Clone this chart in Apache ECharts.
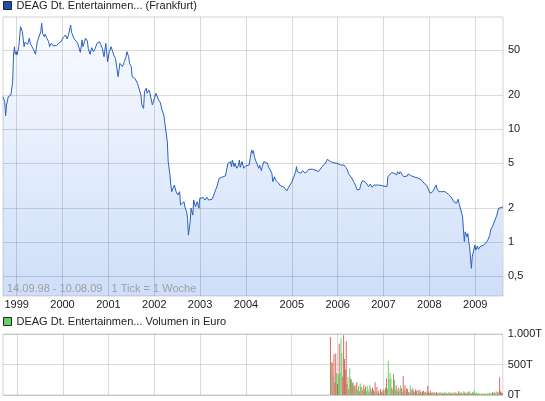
<!DOCTYPE html>
<html>
<head>
<meta charset="utf-8">
<script src="https://cdn.jsdelivr.net/npm/echarts@6/dist/echarts.min.js"></script>
<style>
html,body{margin:0;padding:0;background:#fff;}
#chart{width:545px;height:401px;}
</style>
</head>
<body>
<div id="chart"></div>
<script>
// ---- DATA ----
const seriesName = 'DEAG Dt. Entertainmen... (Frankfurt)';
const volumeName = 'DEAG Dt. Entertainmen... Volumen in Euro';
const rangeNote = '14.09.98 - 10.08.09   1 Tick = 1 Woche';
const startDate = '1998-09-14';
const endDate = '2009-08-10';

// week index since 14.09.98 and weekly closing price (EUR)
const priceWeeks = [0,2,3,4,6,7,9,11,12,13,14,15,16,18,19,20,21,22,24,25,27,28,30,31,33,35,37,39,41,43,44,45,47,48,50,52,53,55,57,59,61,63,64,66,68,69,71,73,75,77,78,81,83,85,87,88,90,91,93,94,96,97,99,101,103,105,107,110,111,113,115,117,118,119,121,123,125,126,128,130,131,133,135,136,138,140,141,143,144,146,147,149,150,152,153,155,157,158,159,160,161,163,164,166,167,169,170,172,174,176,177,179,181,183,184,186,187,188,190,191,192,194,195,197,198,199,201,202,204,206,207,209,210,211,213,214,216,217,219,221,223,224,226,228,230,232,234,236,238,240,242,244,246,247,249,251,253,255,256,258,259,260,261,263,264,266,268,269,270,272,273,274,276,278,280,281,283,284,285,286,288,289,291,292,294,295,297,299,301,302,304,306,307,309,310,312,313,316,318,319,321,323,325,327,329,331,333,334,335,337,339,341,342,344,346,348,350,352,354,355,357,359,361,363,365,367,369,371,373,374,376,378,380,382,384,386,388,390,392,393,395,397,399,401,403,405,406,407,409,410,412,414,416,418,420,422,424,426,427,429,431,433,435,437,438,440,442,443,445,446,448,449,451,452,454,456,458,460,461,463,465,467,469,471,473,475,477,479,481,482,484,486,488,489,491,493,494,496,497,499,501,503,505,507,509,511,513,515,516,518,519,521,523,524,525,526,528,529,530,531,533,534,536,537,538,540,541,543,545,547,549,551,552,554,555,557,558,560,562,564,566,568,569];
const prices = [19.3,17.4,13.1,16.3,19.3,18.7,20.0,26.2,45.2,53.5,45.8,48.3,45.2,53.5,51.8,80.4,77.8,72.6,53.5,58.5,60.1,56.2,63.5,57.3,53.5,50.0,45.8,59.2,57.3,72.6,86.2,70.3,65.6,68.9,63.5,59.2,53.5,57.3,54.6,56.2,54.6,57.3,55.4,59.2,63.5,64.3,67.9,62.6,70.3,83.2,71.7,62.6,60.1,57.3,55.4,47.7,61.3,53.5,55.4,63.5,60.1,51.8,45.8,52.4,48.3,51.8,57.3,59.2,56.2,51.8,43.6,57.3,48.3,39.4,48.3,53.5,51.8,45.2,42.2,40.8,29.0,38.1,39.4,35.6,39.4,43.6,48.3,43.6,38.1,35.6,29.0,30.1,28.1,27.1,25.4,24.5,20.0,16.3,15.8,15.2,21.4,22.9,20.7,22.1,21.1,21.7,16.3,16.5,20.7,20.0,18.1,17.2,14.7,13.3,11.6,11.8,7.72,5.14,3.92,3.19,2.79,2.70,3.19,2.79,2.89,2.61,2.79,2.13,2.05,2.27,2.05,1.85,1.62,1.15,1.51,1.99,1.73,2.35,2.05,2.27,1.99,2.44,2.39,2.47,2.35,2.49,2.35,2.44,2.39,2.44,2.89,3.19,3.66,3.78,3.74,3.78,3.84,3.92,4.97,4.80,5.14,4.64,5.32,4.64,4.97,4.49,4.80,5.32,4.58,5.14,5.32,4.49,4.71,4.58,4.80,4.80,6.52,6.10,6.43,5.69,5.14,4.97,4.49,4.80,4.28,4.64,5.14,5.24,4.97,4.64,4.58,4.06,3.42,3.78,3.54,3.66,3.35,3.13,3.05,3.09,2.99,2.84,3.05,3.09,3.42,3.78,4.19,4.64,4.19,4.34,4.06,4.28,4.40,4.06,4.19,4.40,4.25,4.40,4.28,4.34,4.40,4.19,4.25,4.64,4.80,4.97,5.39,5.50,5.14,5.24,5.03,5.03,4.97,4.97,4.80,4.64,4.80,4.58,4.34,4.06,3.92,3.66,3.42,3.19,2.89,2.79,2.93,3.19,3.49,3.54,3.42,3.54,3.09,3.26,3.05,3.19,3.13,3.19,3.13,3.18,3.13,3.13,3.09,3.09,3.78,3.92,4.11,4.28,4.06,4.19,3.92,4.19,4.00,4.19,4.04,3.78,3.92,3.84,4.00,4.06,3.84,3.84,3.74,3.84,3.66,3.59,3.49,3.31,3.26,3.19,3.19,2.70,2.61,2.79,2.70,3.19,2.93,2.79,2.89,2.79,2.73,2.79,2.70,2.64,2.61,2.44,2.27,2.35,2.20,2.39,2.20,1.92,1.67,1.28,1.01,1.23,1.11,1.19,1.01,0.909,0.585,0.741,0.767,0.941,0.850,0.922,0.862,0.909,0.880,0.941,0.974,1.01,1.04,1.15,1.28,1.37,1.39,1.57,1.73,1.99,2.05,2.03,2.03];

// weekly volume in thousand EUR (T), starting at week 373; direction +1 up / -1 down
const volStartWeek = 373;
const volumes = [950,540,530,330,670,210,680,360,175,340,840,360,930,690,300,980,590,420,880,180,300,100,440,270,250,200,210,140,
160,120,210,80,150,60,190,130,120,70,170,100,140,60,150,90,40,160,110,60,120,80,50,210,60,130,40,70,20,100,
50,60,90,30,80,120,270,100,560,250,360,280,120,80,340,250,90,160,60,100,120,60,160,110,40,310,90,160,60,110,
100,50,40,160,90,70,110,60,40,90,70,30,80,40,80,50,30,60,70,40,50,30,60,150,40,30,70,40,30,50,20,40,30,50,20,40,30,50,20,40,30,20,50,30,40,20,30,50,20,30,40,20,30,50,20,40,30,20,60,30,40,50,30,20,60,40,30,20,50,30,60,40,30,20,50,30,70,20,40,30,20,30,20,10,20,30,10,20,30,20,10,30,20,40,20,30,20,50,30,40,20,60,30,50,40,290,60,40,30];
const volDir = [-1,1,-1,1,-1,-1,-1,1,-1,1,-1,1,1,1,-1,-1,-1,-1,-1,-1,1,-1,1,-1,1,-1,1,-1,
-1,1,-1,1,1,-1,1,-1,1,-1,-1,1,-1,1,1,1,-1,1,-1,1,-1,-1,1,-1,1,-1,1,-1,1,-1,
-1,1,-1,-1,1,-1,-1,1,1,1,1,1,-1,1,-1,1,1,-1,-1,1,-1,1,1,-1,1,-1,-1,-1,1,-1,
-1,1,-1,1,-1,1,-1,-1,1,-1,-1,1,-1,1,-1,-1,1,-1,-1,1,-1,-1,1,-1,-1,1,-1,-1,1,-1,1,-1,1,-1,-1,1,-1,1,-1,1,-1,-1,1,-1,1,-1,-1,1,-1,-1,1,-1,-1,1,-1,-1,1,-1,-1,1,-1,1,-1,-1,1,-1,1,-1,1,-1,-1,1,1,-1,1,-1,1,-1,1,1,-1,1,1,1,-1,1,1,-1,1,1,-1,1,1,1,-1,1,1,-1,1,-1,1,1,1,-1,1,-1];

const years = [1999,2000,2001,2002,2003,2004,2005,2006,2007,2008,2009];
const yTicks = [0.5, 1, 2, 5, 10, 20, 50];
const yTickLabels = ['0,5','1','2','5','10','20','50'];
const volTicks = [0, 500, 1000];
const volTickLabels = ['0T','500T','1.000T'];

// ---- CHART ----
const WEEK = 7 * 86400000;
const t0 = Date.parse(startDate + 'T00:00:00Z');
const t1 = Date.parse(endDate + 'T00:00:00Z');
const priceData = priceWeeks.map((w, i) => [t0 + w * WEEK, prices[i]]);
const GREEN = '#63d463', RED = '#e06464';
const volData = volumes.map((v, i) => ({
  value: [t0 + (volStartWeek + i) * WEEK, v],
  itemStyle: { color: volDir[i] > 0 ? GREEN : RED }
}));

const FONT = '"Liberation Sans", Arial, sans-serif';
const GRID_COLOR = 'rgba(0,0,0,0.14)';

const mainMarks = yTicks.map((v, i) => ({ yAxis: v, name: yTickLabels[i],
    label: { position: 'end', distance: 5, align: 'left' } }))
  .concat(years.map(y => ({ xAxis: Date.UTC(y, 0, 1), name: String(y),
    label: { position: 'start', distance: 3 } })));
const volMarks = years.map(y => ({ xAxis: Date.UTC(y, 0, 1), name: String(y) }));

const chart = echarts.init(document.getElementById('chart'), null, { renderer: 'canvas' });
chart.setOption({
  animation: false,
  useUTC: true,
  textStyle: { fontFamily: FONT },
  legend: [
    { data: [seriesName], left: 3, top: 0, padding: 0, icon: 'rect', itemWidth: 8, itemHeight: 8,
      itemStyle: { borderColor: '#222', borderWidth: 1 },
      textStyle: { fontSize: 11, color: '#222', fontFamily: FONT }, selectedMode: false },
    { data: [volumeName], left: 3, top: 316, padding: 0, icon: 'rect', itemWidth: 8, itemHeight: 8,
      itemStyle: { borderColor: '#222', borderWidth: 1 },
      textStyle: { fontSize: 11, color: '#222', fontFamily: FONT }, selectedMode: false }
  ],
  graphic: [
    { type: 'text', left: 7, top: 283, silent: true, z: 10,
      style: { text: rangeNote, fill: '#a0a0a0', font: '11px ' + FONT } }
  ],
  grid: [
    { left: 3, right: 42, top: 17, height: 279, show: true, borderColor: '#d4d4d4', borderWidth: 1 },
    { left: 3, right: 42, top: 334, height: 61, show: true, borderColor: '#d4d4d4', borderWidth: 1 }
  ],
  xAxis: [
    { type: 'time', gridIndex: 0, min: t0, max: t1,
      axisLine: { show: false }, axisTick: { show: false }, axisLabel: { show: false }, splitLine: { show: false } },
    { type: 'time', gridIndex: 1, min: t0, max: t1,
      axisLine: { show: false }, axisTick: { show: false }, axisLabel: { show: false }, splitLine: { show: false } }
  ],
  yAxis: [
    { type: 'log', gridIndex: 0, position: 'right', min: Math.pow(10, -0.478), max: Math.pow(10, 1.991),
      axisLine: { show: false }, axisTick: { show: false }, axisLabel: { show: false }, splitLine: { show: false } },
    { type: 'value', gridIndex: 1, position: 'right', min: 0, max: 1000, interval: 500,
      axisLine: { show: false }, axisTick: { show: false },
      axisLabel: { fontSize: 11, color: '#222', margin: 5, fontFamily: FONT,
        formatter: v => volTickLabels[volTicks.indexOf(v)] },
      splitLine: { show: true, lineStyle: { color: GRID_COLOR, width: 1 } } }
  ],
  series: [
    { type: 'line', name: seriesName, xAxisIndex: 0, yAxisIndex: 0, data: priceData,
      symbol: 'none', showSymbol: false, silent: true,
      color: '#1d4fae',
      lineStyle: { color: '#2a60c2', width: 1 },
      areaStyle: { origin: 'start', color: { type: 'linear', x: 0, y: 0, x2: 0, y2: 1,
        colorStops: [ { offset: 0, color: 'rgba(102,153,238,0.05)' }, { offset: 1, color: 'rgba(102,153,238,0.46)' } ] } },
      markLine: { silent: true, symbol: ['none', 'none'], animation: false, precision: 4,
        lineStyle: { color: GRID_COLOR, type: 'solid', width: 1 },
        label: { show: true, formatter: '{b}', color: '#222', fontSize: 11, fontFamily: FONT },
        emphasis: { disabled: true },
        data: mainMarks } },
    { type: 'bar', name: volumeName, xAxisIndex: 1, yAxisIndex: 1, data: volData,
      barWidth: 1, silent: true, itemStyle: { color: GREEN },
      markLine: { silent: true, symbol: ['none', 'none'], animation: false,
        lineStyle: { color: GRID_COLOR, type: 'solid', width: 1 },
        label: { show: false }, emphasis: { disabled: true },
        data: volMarks } }
  ]
});
</script>
</body>
</html>
